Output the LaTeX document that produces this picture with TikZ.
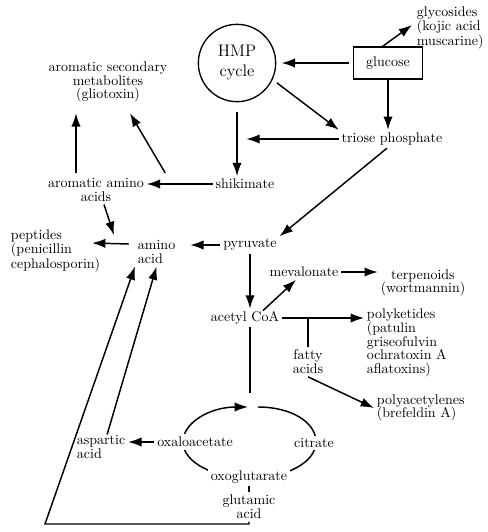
\documentclass[tikz,border=0pt]{standalone}
\usepackage{tikz}
\usetikzlibrary{arrows.meta, positioning, calc, backgrounds}

\begin{document}
\begin{tikzpicture}[x=0.75pt, y=-0.75pt,
        txt/.style={inner sep=2pt, align=center, font=\fontsize{10.5}{10.3}\selectfont},
        ltxt/.style={txt, align=left},
        cyc/.style={txt, fill=white},
        pool/.style={draw, circle, line width=1pt, minimum size=58pt, inner sep=0pt, align=center, font=\fontsize{12.5}{15}\selectfont},
        box/.style={draw, rectangle, line width=1pt, minimum width=52pt, minimum height=24pt, font=\fontsize{10.5}{11}\selectfont},
        arrow/.style={-{Latex[length=10pt,width=7pt]}, line width=1.1pt},
        link/.style={line width=1.1pt}
    ]
    \useasboundingbox (0,0) rectangle (487,532);

    % Top row
    \node[pool] (hmp) at (237,63) {HMP\\cycle};
    \node[box] (glucose) at (388,63) {glucose};
    \node[ltxt, anchor=west] (glyco) at (414,28) {glycosides\\(kojic acid\\muscarine)};
    \node[txt] (triose) at (392,139) {triose phosphate};

    % Aromatic branch
    \node[txt] (shik) at (245,184) {shikimate};
    \node[txt] (aroma) at (96,190) {aromatic amino\\acids};
    \node[txt] (aromsec) at (108,82) {aromatic secondary\\metabolites\\(gliotoxin)};
    \node[ltxt, anchor=west] (peptides) at (8,251) {peptides\\(penicillin\\cephalosporin)};
    \node[ltxt, anchor=west] (amino) at (135,252) {amino\\acid};

    % Pyruvate and acetyl CoA
    \node[txt] (pyr) at (250,245) {pyruvate};
    \node[txt] (acetyl) at (245,318) {acetyl CoA};
    \node[txt] (meval) at (304,272) {mevalonate};
    \node[txt] (terp) at (423,283) {terpenoids\\(wortmannin)};
    \node[ltxt, anchor=west] (polyk) at (364,343) {polyketides\\(patulin\\griseofulvin\\ochratoxin A\\aflatoxins)};
    \node[txt] (fatty) at (308,362) {fatty\\acids};
    \node[ltxt, anchor=west] (polyac) at (374,408) {polyacetylenes\\(brefeldin A)};

    % TCA cycle
    \node[cyc] (oxalo) at (195,442) {oxaloacetate};
    \node[cyc] (citrate) at (314,443) {citrate};
    \node[cyc] (oxoglu) at (249,477) {oxoglutarate};
    \node[txt] (glu) at (249,507) {glutamic\\acid};
    \node[ltxt, anchor=west] (asp) at (74,447) {aspartic\\acid};
    \coordinate (cL) at (183,442);
    \coordinate (cT) at (250,407);
    \coordinate (cR) at (316,442);
    \coordinate (cB) at (250,478);
    \coordinate (bl) at (45,524);

    % Glucose arrows
    \draw[arrow, shorten <=3pt, shorten >=4pt] (glucose) -- (hmp);
    \draw[arrow] ([xshift=-4pt]glucose.north) -- ($(glyco.west)+(-2,-3)$);
    \draw[arrow] (glucose.south) -- (glucose.south |- triose.north);
    \draw[arrow, shorten <=4pt] (hmp.-25) -- (triose.north west);
    \draw[arrow, shorten <=7pt] (hmp.south) -- (hmp.south |- shik.north);
    \draw[arrow, shorten >=7pt] (triose.west) -- (triose.west -| hmp.south);

    % Shikimate arrows
    \draw[arrow] (shik.west) -- (shik.west -| aroma.east);
    \coordinate (split) at ($(shik.west)!0.72!(shik.west -| aroma.east)$);
    \draw[arrow] ($(split)+(0,-11)$) -- ($(aromsec.south)+(22,8)$);
    \draw[arrow, shorten <=2pt, shorten >=6pt] ([xshift=-15pt]aroma.north) -- ([xshift=-15pt]aroma.north |- aromsec.south);
    \draw[arrow] ($(aroma.south)+(8,0)$) -- ($(amino.west)+(-21,-17)$);
    \draw[arrow] ($(amino.west)+(-6,-8)$) -- ($(peptides.east)+(-11,-8)$);

    % Pyruvate arrows
    \draw[arrow, shorten >=9pt] (pyr.west) -- (pyr.west -| amino.east);
    \draw[arrow] ($(triose.south)+(-5,0)$) -- (pyr.north east);
    \draw[arrow] (pyr.south) -- (pyr.south |- acetyl.north);

    % Acetyl CoA arrows
    \draw[arrow] ($(acetyl.north)+(18,2)$) -- ($(meval.south)+(-8,0)$);
    \draw[arrow] (meval.east) -- (meval.east -| terp.west);
    \draw[arrow] (acetyl.east) -- (acetyl.east -| polyk.west);
    \draw[link] (fatty.north |- acetyl.east) -- (fatty.north);
    \draw[arrow] (fatty.south) -- (polyac.west);
    \draw[link] (acetyl.south -| cT) -- ($(cT)+(0,-14)$);

    % Cycle loop
    \begin{scope}[on background layer]
        \draw[arrow] (cL) .. controls +(0,-20) and +(-37,0) .. ($(cT)+(-2,0)$);
        \draw[link] ($(cT)+(8,0)$) .. controls +(33,0) and +(0,-20) .. (cR);
        \draw[link] (cR) .. controls +(0,20) and +(37,0) .. (cB);
        \draw[link] (cB) .. controls +(-37,0) and +(0,20) .. (cL);
    \end{scope}

    % Amino acid returns
    \draw[arrow] (oxalo.west) -- (oxalo.west -| asp.east);
    \draw[link] (oxoglu.south) -- (glu.north);
    \draw[arrow] ($(asp.north)+(6,2)$) -- (amino.south);
    \draw[arrow] (glu.south) |- (bl) -- (amino.south west);
\end{tikzpicture}
\end{document}
